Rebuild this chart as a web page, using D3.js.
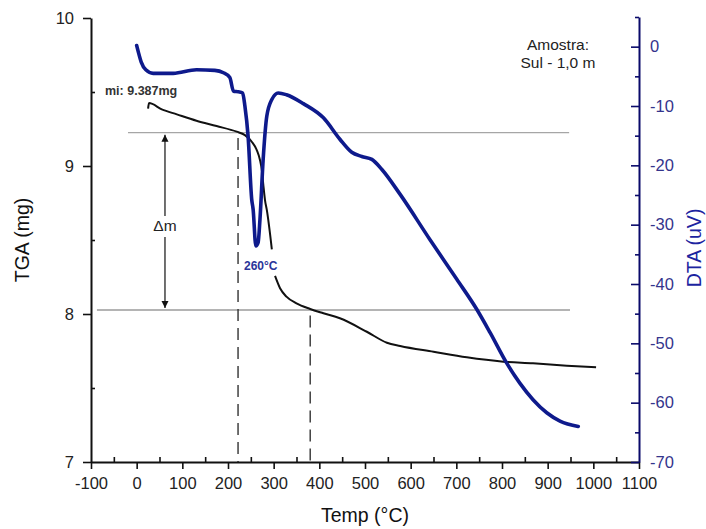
<!DOCTYPE html>
<html><head><meta charset="utf-8">
<script src="https://cdn.jsdelivr.net/npm/d3@7"></script>
<style>
body{margin:0;background:#fff;}
svg{display:block;font-family:"Liberation Sans",Arial,sans-serif;}
</style></head>
<body><svg id="c" width="706" height="529"></svg>
<script>
// ---- data ----
const xTicks = [-100,0,100,200,300,400,500,600,700,800,900,1000,1100];
const xMinor = [-50,50,150,250,350,450,550,650,750,850,950,1050];
const yLTicks = [7,8,9,10];
const yLMinor = [7.5,8.5,9.5];
const yRTicks = [-70,-60,-50,-40,-30,-20,-10,0];
const yRMinor = [-65,-55,-45,-35,-25,-15,-5,5];

const tgaTemp = [25,27,55,88,131,175,219,237,252,263,270,274,277,281,285,296,300,303,314,328,350,380,409,445,504,548,577,650,723,803,868,942,1006];
const tgaMass = [9.387,9.425,9.383,9.349,9.306,9.270,9.232,9.209,9.164,9.108,9.041,8.973,8.883,8.770,8.703,8.437,null,8.257,8.174,8.117,8.072,8.034,8.005,7.971,7.880,7.806,7.784,7.745,7.707,7.678,7.667,7.651,7.640];

const dtaTemp = [0,4,10,20,36,80,131,171,190,204,212,223,232,237,244,252,255,261,266,270,277,285,296,310,328,365,409,445,471,493,515,537,577,642,701,745,774,810,839,868,898,927,967];
const dtaVal = [0.2,-1.0,-2.6,-3.9,-4.5,-4.5,-3.9,-4.0,-4.4,-5.2,-7.5,-7.6,-7.8,-10.0,-15.1,-25.8,-27.4,-33.6,-33.0,-29.1,-19.0,-11.7,-8.9,-7.8,-8.1,-9.6,-12.0,-15.6,-17.8,-18.5,-19.0,-20.7,-24.9,-32.5,-39.2,-44.3,-48.2,-53.3,-56.7,-59.5,-61.7,-63.1,-64.0];

// annotation values (data units)
const refMass = [9.225, 8.027];
const refStart = [-19, -87], refEnd = [947, 949];
const dashTemp = [222, 380], dashTop = [9.19, 7.99];
const arrowTemp = 62;
const initialLabel = "mi: 9.387mg";
const peakLabel = "260°C";
const sampleText = ["Amostra:", "Sul - 1,0 m"];

// ---- scales ----
const svg = d3.select("#c");
const x = d3.scaleLinear().domain([-100,1100]).range([91,639]);
const yL = d3.scaleLinear().domain([7,10]).range([462,18]);
const yR = d3.scaleLinear().domain([-70,5]).range([462,17]);
const blue = "#0e1a8c";
const fmt = d => String(d);
const FONT = "Liberation Sans, Arial, sans-serif";

// ---- reference lines ----
const grays = ["#a6a6a6","#6a6a6a"];
refMass.forEach((m,i)=>{
  svg.append("line").attr("x1",x(refStart[i])).attr("x2",x(refEnd[i]))
    .attr("y1",yL(m)).attr("y2",yL(m)).attr("stroke",grays[i]).attr("stroke-width",1.2);
});
dashTemp.forEach((t,i)=>{
  svg.append("line").attr("x1",x(t)).attr("x2",x(t))
    .attr("y1",yL(dashTop[i])).attr("y2",yL(7))
    .attr("stroke","#333").attr("stroke-width",1.4).attr("stroke-dasharray","12,7");
});

// arrow
const defs = svg.append("defs");
defs.append("marker").attr("id","ah").attr("viewBox","0 0 10 10").attr("refX",10).attr("refY",5)
  .attr("markerWidth",7).attr("markerHeight",9).attr("markerUnits","userSpaceOnUse")
  .attr("orient","auto-start-reverse")
  .append("path").attr("d","M0,0L10,5L0,10z").attr("fill","#111");
svg.append("line").attr("x1",x(arrowTemp)).attr("x2",x(arrowTemp))
  .attr("y1",yL(refMass[0])+2).attr("y2",yL(refMass[1])-2)
  .attr("stroke","#111").attr("stroke-width",1.2)
  .attr("marker-start","url(#ah)").attr("marker-end","url(#ah)");
svg.append("rect").attr("x",x(arrowTemp)-14).attr("y",216).attr("width",28).attr("height",21).attr("fill","#fff");
svg.append("text").attr("x",x(arrowTemp)).attr("y",231).attr("text-anchor","middle")
  .attr("font-size",15.5).attr("fill","#222").text("Δm");

// ---- curves ----
const tga = tgaTemp.map((t,i)=>({t, v:tgaMass[i]}));
const dta = dtaTemp.map((t,i)=>({t, v:dtaVal[i]}));
svg.append("path").datum(tga)
  .attr("d", d3.line().defined(d=>d.v!==null).x(d=>x(d.t)).y(d=>yL(d.v)).curve(d3.curveMonotoneX))
  .attr("fill","none").attr("stroke","#111").attr("stroke-width",2).attr("stroke-linejoin","round");
svg.append("path").datum(dta)
  .attr("d", d3.line().x(d=>x(d.t)).y(d=>yR(d.v)).curve(d3.curveMonotoneX))
  .attr("fill","none").attr("stroke",blue).attr("stroke-width",3.6)
  .attr("stroke-linejoin","round").attr("stroke-linecap","round");

// ---- axes ----
function styleAxis(g, col){
  g.select(".domain").attr("stroke",col).attr("stroke-width",2);
  g.selectAll(".tick line").attr("stroke",col).attr("stroke-width",1.6);
}
const gx = svg.append("g").attr("transform","translate(0,462)")
  .call(d3.axisBottom(x).tickValues(xTicks).tickSize(7).tickSizeOuter(0).tickFormat(fmt));
styleAxis(gx,"#111");
gx.selectAll("text").attr("y",27).attr("dy",null).attr("font-size",16.5).attr("fill","#222")
  .attr("font-family",FONT);
const gxm = svg.append("g").attr("transform","translate(0,462)")
  .call(d3.axisBottom(x).tickValues(xMinor).tickSize(-5).tickSizeOuter(0).tickFormat(""));
gxm.select(".domain").remove();
gxm.selectAll("line").attr("stroke","#111").attr("stroke-width",1.6);

const gl = svg.append("g").attr("transform","translate(91,0)")
  .call(d3.axisLeft(yL).tickValues(yLTicks).tickSize(8).tickSizeOuter(0).tickFormat(fmt));
styleAxis(gl,"#111");
gl.selectAll("text").attr("x",-17).attr("font-size",16.5).attr("fill","#222")
  .attr("font-family",FONT);
const glm = svg.append("g").attr("transform","translate(91,0)")
  .call(d3.axisLeft(yL).tickValues(yLMinor).tickSize(-4).tickSizeOuter(0).tickFormat(""));
glm.select(".domain").remove();
glm.selectAll("line").attr("stroke","#111").attr("stroke-width",1.6);

const gr = svg.append("g").attr("transform","translate(639,0)")
  .call(d3.axisRight(yR).tickValues(yRTicks).tickSize(-8).tickSizeOuter(0).tickFormat(fmt));
styleAxis(gr,"#0a0a6a");
gr.selectAll("text").attr("x",11).attr("font-size",16.5).attr("fill","#34348c")
  .attr("font-family",FONT);
const grm = svg.append("g").attr("transform","translate(639,0)")
  .call(d3.axisRight(yR).tickValues(yRMinor).tickSize(-4).tickSizeOuter(0).tickFormat(""));
grm.select(".domain").remove();
grm.selectAll("line").attr("stroke","#0a0a6a").attr("stroke-width",1.6);

// ---- titles & labels ----
svg.append("text").attr("x",365).attr("y",522).attr("text-anchor","middle")
  .attr("font-size",19.5).attr("fill","#111").text("Temp (°C)");
svg.append("text").attr("transform","translate(29,240) rotate(-90)").attr("text-anchor","middle")
  .attr("font-size",19.5).attr("fill","#111").text("TGA (mg)");
svg.append("text").attr("transform","translate(701,248) rotate(-90)").attr("text-anchor","middle")
  .attr("font-size",19.5).attr("fill","#1c24a0").text("DTA (uV)");

svg.append("text").attr("x",105).attr("y",95).attr("font-size",12.5).attr("font-weight","bold")
  .attr("fill","#333").text(initialLabel);
svg.append("text").attr("x",244).attr("y",270).attr("font-size",12).attr("font-weight","bold")
  .attr("fill","#2a3599").text(peakLabel);
sampleText.forEach((s,i)=>{
  svg.append("text").attr("x",558).attr("y",50+i*18).attr("text-anchor","middle")
    .attr("font-size",15.5).attr("fill","#222").text(s);
});
</script></body></html>
